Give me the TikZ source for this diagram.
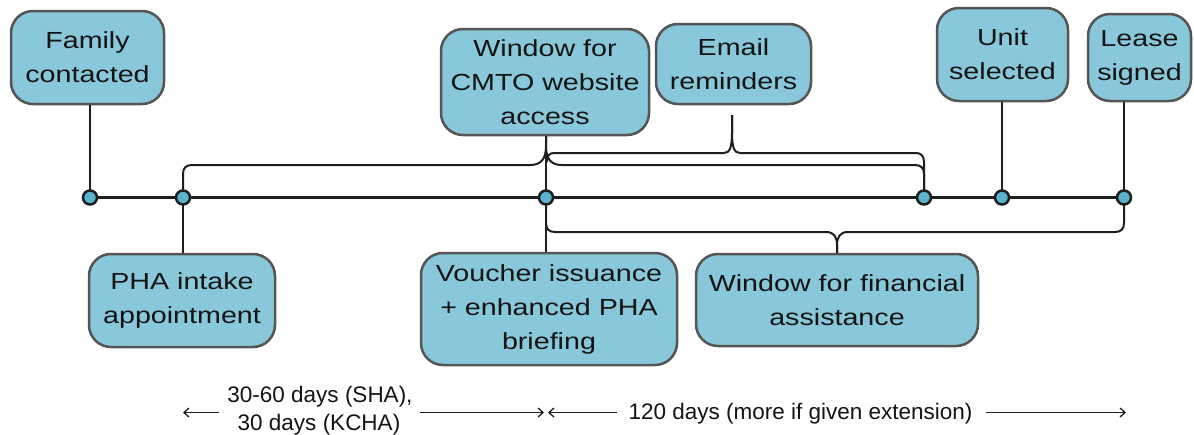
\documentclass[tikz,border=0pt]{standalone}
\usepackage{fontspec}
\setmainfont{Liberation Sans}
\newfontfamily\boxfont[FakeStretch=1.23]{Liberation Sans}
\usetikzlibrary{arrows.meta}
\definecolor{boxfill}{HTML}{89C8DA}
\definecolor{boxborder}{HTML}{555555}
\definecolor{dotfill}{HTML}{5BB3CF}
\definecolor{linec}{HTML}{1E1E1E}
\definecolor{textc}{HTML}{141414}
\begin{document}
\begin{tikzpicture}[x=1pt,y=-1pt,
  box/.style={draw=boxborder, line width=2.5pt, fill=boxfill, rounded corners=22pt,
    inner sep=0pt, align=center, text=textc, font=\boxfont\fontsize{23.3}{34}\selectfont},
  dot/.style={circle, draw=linec, fill=dotfill, line width=2.5pt, minimum size=14pt, inner sep=0pt},
  conn/.style={draw=linec, line width=2pt},
  tl/.style={draw=linec, line width=3.2pt},
  arr/.style={draw=linec, line width=1.3pt, >={Straight Barb[length=5pt,width=9pt]}},
  lbl/.style={font=\fontsize{22.5}{28}\selectfont, text=textc, inner sep=0pt, anchor=base}]
\fill[white] (0,0) rectangle (1194,434);
\useasboundingbox (0,0) rectangle (1194,434);

% boxes
\node[box, minimum width=153, minimum height=93] (fam) at (87.5,57.5) {Family\\contacted};
\node[box, minimum width=208, minimum height=106] (cmto) at (545,82) {Window for\\CMTO website\\access};
\node[box, minimum width=155, minimum height=80] (email) at (733.5,64) {Email\\reminders};
\node[box, minimum width=131, minimum height=93] (unit) at (1002.5,54.5) {Unit\\selected};
\node[box, minimum width=103, minimum height=87] (lease) at (1139.5,57.5) {Lease\\signed};
\node[box, minimum width=186, minimum height=93] (pha) at (182,300.5) {PHA intake\\appointment};
\node[box, minimum width=256, minimum height=112] (vouch) at (549,309) {Voucher issuance\\+ enhanced PHA\\briefing};
\node[box, minimum width=282, minimum height=92] (fin) at (837,300) {Window for financial\\assistance};

% timeline points
\coordinate (p1) at (90,197.5);
\coordinate (p2) at (183,197.5);
\coordinate (p3) at (546,197.5);
\coordinate (p4) at (924,197.5);
\coordinate (p5) at (1002,197.5);
\coordinate (p6) at (1124,197.5);
\coordinate (etip) at (732,115);

\draw[tl] (p1) -- (p6);
\draw[conn] (fam.south -| p1) -- (p1);
\draw[conn] (unit.south -| p5) -- (p5);
\draw[conn] (lease.south -| p6) -- (p6);
\draw[conn] (p2) -- (pha.north -| p2);
\draw[conn] (cmto.south -| p3) -- (vouch.north -| p3);

% brace to CMTO window
\draw[conn] (p2) -- (183,174) .. controls (183,168) and (186,165) .. (192,165) -- (530,165)
  .. controls (541,165) and (546,159) .. (546,146) -- (cmto.south -| p3);
\draw[conn] (cmto.south -| p3) -- (546,146)
  .. controls (546,159) and (551,165) .. (562,165) -- (915,165)
  .. controls (921,165) and (924,168) .. (924,174) -- (p4);

% brace to email reminders
\draw[conn] (547,162) .. controls (547,156) and (549,153) .. (554,153) -- (724,153)
  .. controls (730,153) and (732,147) .. (732,132) -- (etip);
\draw[conn] (etip) -- (732,132)
  .. controls (732,147) and (734,153) .. (740,153) -- (916,153)
  .. controls (921,153) and (924,156) .. (924,162) -- (p4);

% brace to financial assistance
\draw[conn] (p3) -- (546,223) .. controls (546,229) and (549,232) .. (555,232) -- (826,232)
  .. controls (834,232) and (837,237) .. (837,245) -- (fin.north);
\draw[conn] (fin.north) -- (837,245)
  .. controls (837,237) and (840,232) .. (848,232) -- (1115,232)
  .. controls (1121,232) and (1124,229) .. (1124,223) -- (p6);

% dots
\foreach \i in {1,...,6} { \node[dot] (d\i) at (p\i) {}; }

% bottom arrows
\coordinate (a1) at (183,412.5);
\coordinate (a2) at (219,412.5);
\coordinate (a3) at (420,412.5);
\coordinate (a4) at (544,412.5);
\coordinate (a5) at (548,412.5);
\coordinate (a6) at (617,412.5);
\coordinate (a7) at (986,412.5);
\coordinate (a8) at (1126,412.5);
\draw[arr,<-] (a1) -- (a2);
\draw[arr,->] (a3) -- (a4);
\draw[arr,<-] (a5) -- (a6);
\draw[arr,->] (a7) -- (a8);

\node[lbl] (t1) at (320,402) {30-60 days (SHA),};
\node[lbl] (t2) at (319,430) {30 days (KCHA)};
\node[lbl] (t3) at (800.5,419) {120 days (more if given extension)};
\end{tikzpicture}
\end{document}
